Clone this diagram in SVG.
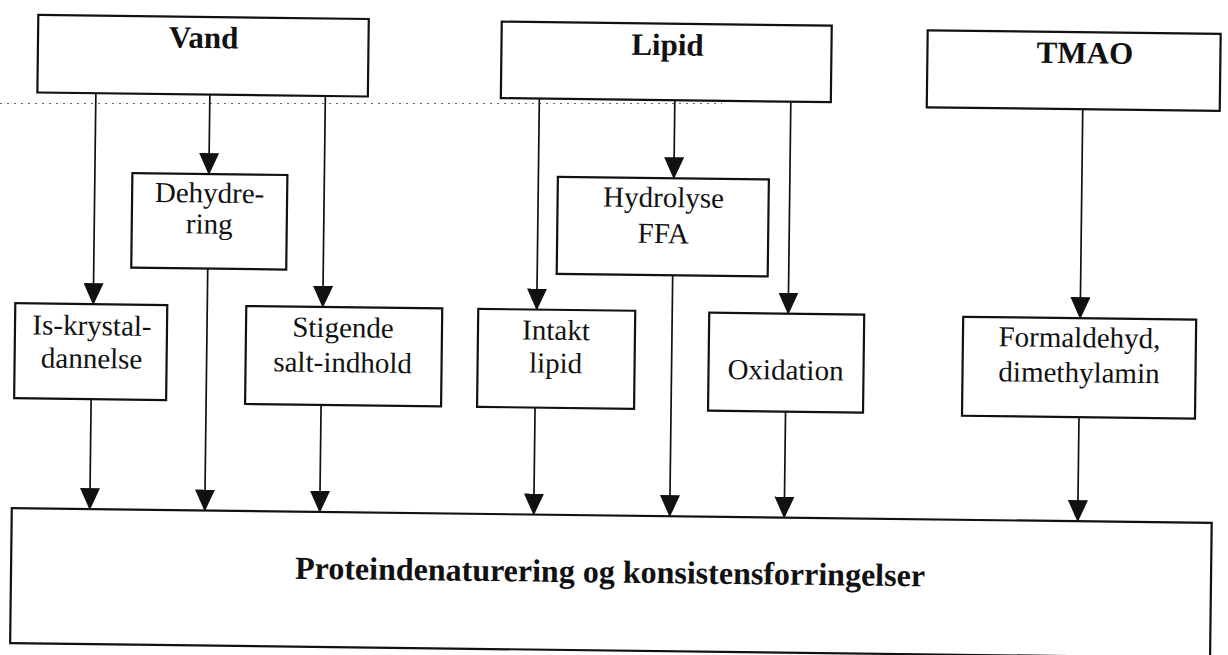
<svg xmlns="http://www.w3.org/2000/svg" width="1228" height="655" viewBox="0 0 1228 655">
  <defs>
    <style>
      .box { fill: #ffffff; stroke: #111111; stroke-width: 2.2; }
      .title { font-family: "Liberation Serif", "Times New Roman", serif; font-weight: bold; font-size: 31px; fill: #111111; text-anchor: middle; }
      .lbl { font-family: "Liberation Serif", "Times New Roman", serif; font-size: 29px; fill: #111111; text-anchor: middle; }
      .big { font-family: "Liberation Serif", "Times New Roman", serif; font-weight: bold; font-size: 32px; fill: #111111; text-anchor: middle; }
      .conn { stroke: #111111; stroke-width: 1.7; fill: none; marker-end: url(#arrow); }
      .dots { stroke: #666666; stroke-width: 1.2; stroke-dasharray: 2 5; fill: none; }
    </style>
    <marker id="arrow" markerUnits="userSpaceOnUse" markerWidth="22" markerHeight="20" viewBox="0 0 22 20" refX="21" refY="10" orient="auto">
      <path d="M0,0 L22,10 L0,20 Z" fill="#111111"/>
    </marker>
  </defs>
  <rect x="0" y="0" width="1228" height="655" fill="#ffffff"/>
  <line class="dots" x1="0" y1="103.5" x2="722" y2="103.5"/>
  <g transform="rotate(0.7)">
    <g id="connectors">
      <line class="conn" x1="97" y1="92" x2="97" y2="303"/>
      <line class="conn" x1="211" y1="92" x2="211" y2="171.5"/>
      <line class="conn" x1="326.5" y1="92" x2="326.5" y2="303"/>
      <line class="conn" x1="96" y1="398" x2="96" y2="508"/>
      <line class="conn" x1="211" y1="266" x2="211" y2="508"/>
      <line class="conn" x1="326" y1="401" x2="326" y2="508"/>
      <line class="conn" x1="540.5" y1="92" x2="540.5" y2="303"/>
      <line class="conn" x1="676" y1="92" x2="676" y2="170"/>
      <line class="conn" x1="792" y1="92" x2="792" y2="304"/>
      <line class="conn" x1="540" y1="401" x2="540" y2="508"/>
      <line class="conn" x1="676" y1="267" x2="676" y2="508"/>
      <line class="conn" x1="790.5" y1="402" x2="790.5" y2="508"/>
      <line class="conn" x1="1084" y1="96" x2="1084" y2="305"/>
      <line class="conn" x1="1084" y1="404" x2="1084" y2="508"/>
    </g>
    <g id="vand">
      <rect class="box" x="38.5" y="14.5" width="330.5" height="77.5"/>
      <text class="title" x="204" y="45.5">Vand</text>
    </g>
    <g id="lipid">
      <rect class="box" x="502" y="15.5" width="330" height="76.5"/>
      <text class="title" x="668" y="47">Lipid</text>
    </g>
    <g id="tmao">
      <rect class="box" x="928" y="19" width="293" height="77"/>
      <text class="title" x="1085.5" y="50">TMAO</text>
    </g>
    <g id="dehydrering">
      <rect class="box" x="134.5" y="171.5" width="155" height="94.5"/>
      <text class="lbl" x="212" y="200">Dehydre-</text>
      <text class="lbl" x="212" y="231">ring</text>
    </g>
    <g id="hydrolyse">
      <rect class="box" x="560" y="170" width="211" height="97"/>
      <text class="lbl" x="666" y="199">Hydrolyse</text>
      <text class="lbl" x="666" y="235">FFA</text>
    </g>
    <g id="iskrystal">
      <rect class="box" x="19" y="303" width="152" height="95"/>
      <text class="lbl" x="96" y="334">Is-krystal-</text>
      <text class="lbl" x="96" y="367">dannelse</text>
    </g>
    <g id="stigende">
      <rect class="box" x="250" y="303" width="196" height="98"/>
      <text class="lbl" x="347" y="333">Stigende</text>
      <text class="lbl" x="347" y="368">salt-indhold</text>
    </g>
    <g id="intakt">
      <rect class="box" x="482" y="303" width="157" height="98"/>
      <text class="lbl" x="560" y="333">Intakt</text>
      <text class="lbl" x="560" y="366">lipid</text>
    </g>
    <g id="oxidation">
      <rect class="box" x="713" y="304" width="155" height="98"/>
      <text class="lbl" x="790" y="370">Oxidation</text>
    </g>
    <g id="formaldehyd">
      <rect class="box" x="967" y="305" width="233" height="99"/>
      <text class="lbl" x="1083.5" y="334">Formaldehyd,</text>
      <text class="lbl" x="1083.5" y="369">dimethylamin</text>
    </g>
    <g id="protein">
      <rect class="box" x="18" y="508" width="1200" height="135"/>
      <text class="big" x="617" y="575">Proteindenaturering og konsistensforringelser</text>
    </g>
  </g>
</svg>
